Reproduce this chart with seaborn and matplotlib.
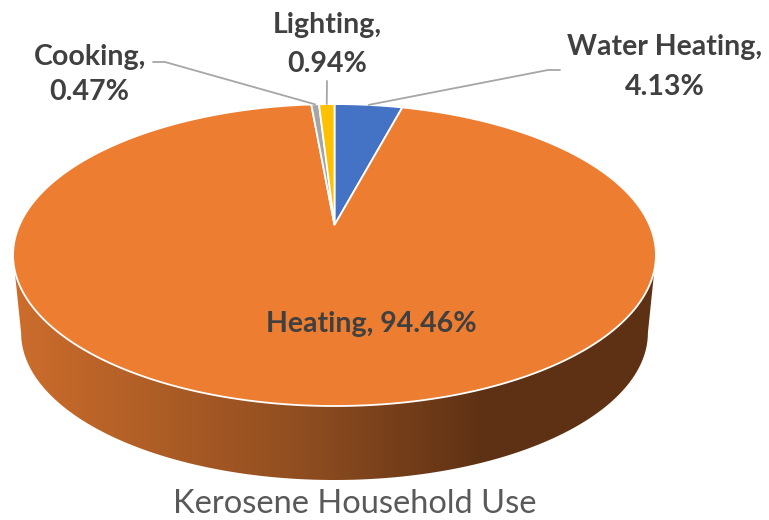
import numpy as np
import matplotlib
matplotlib.use("Agg")
import matplotlib.pyplot as plt
import seaborn as sns
from matplotlib.patches import Polygon
from matplotlib.colors import LinearSegmentedColormap

# data (clockwise from 12 o'clock, as in the original)
categories = ["Water Heating", "Heating", "Cooking", "Lighting"]
shares = [4.13, 94.46, 0.47, 0.94]
slice_colors = ["#4472C4", "#ED7D31", "#A5A5A5", "#FFC000"]
title = "Kerosene Household Use"

# layout of the tilted pie, in pixels
CX, CY = 334.5, 225.0
A, B, P = 315.0, 145.0, 0.199
DROP, SHRINK = 78.5, 0.975


def project(theta, bottom=False):
    u, v = np.sin(theta), np.cos(theta)
    q = 1.0 / (1.0 + P * v)
    s = SHRINK if bottom else 1.0
    x = CX + s * A * u * q
    y = CY - s * B * v * q + (DROP if bottom else 0.0)
    return x, y


sns.set_theme(style="white")
fig = plt.figure(figsize=(7.69, 5.20), dpi=100)
ax = fig.add_axes([0, 0, 1, 1])

# side wall with a left-to-right shading
t_right = np.arccos(-P)
t_left = 2 * np.pi - np.arccos(-P)
tt = np.linspace(t_right, t_left, 200)
xt, yt = project(tt)
xb, yb = project(tt[::-1], bottom=True)
wall = Polygon(np.column_stack([np.r_[xt, xb], np.r_[yt, yb]]), closed=True,
               facecolor="none", edgecolor="none")
ax.add_patch(wall)
wall_cmap = LinearSegmentedColormap.from_list(
    "wall", [(0, "#CD6D2C"), (0.45, "#8E4D20"), (0.72, "#5E3114"), (1, "#5E3114")])
grad = np.linspace(0, 1, 400)[None, :]
im = ax.imshow(grad, extent=(10, 670, 490, 240), aspect="auto", cmap=wall_cmap,
               zorder=1, interpolation="bilinear")
im.set_clip_path(wall)

# top face slices
bounds = np.r_[0, np.cumsum(shares)] / sum(shares) * 2 * np.pi
mids = []
for i, col in enumerate(slice_colors):
    th = np.linspace(bounds[i], bounds[i + 1], max(3, int(400 * shares[i] / 100)))
    x, y = project(th)
    ax.fill(np.r_[CX, x], np.r_[CY, y], facecolor=col, edgecolor="white",
            linewidth=1.3, zorder=2)
    mids.append(project((bounds[i] + bounds[i + 1]) / 2))

# labels
lab_color = "#404040"
lab_font = dict(family="Lato", weight="bold", fontsize=20.5, color=lab_color, zorder=4)
label_lines = {
    "Water Heating": [(665, 55, "Water Heating,"), (665, 95, "4.13%")],
    "Heating": [(371.5, 332, "Heating, 94.46%")],
    "Cooking": [(90, 65, "Cooking,"), (89, 100, "0.47%")],
    "Lighting": [(327, 33, "Lighting,"), (327, 72, "0.94%")],
}
for cat, val in zip(categories, shares):
    for x, y, s in label_lines[cat]:
        ax.text(x, y, s, ha="center", va="baseline", **lab_font)

# leader lines
knees = {
    "Water Heating": [(548, 70), (560, 70)],
    "Cooking": [(165, 62), (153, 62)],
    "Lighting": [(327, 81)],
}
for cat, (mx, my) in zip(categories, mids):
    if cat in knees:
        pts = [(mx, my)] + knees[cat]
        ax.plot([p[0] for p in pts], [p[1] for p in pts], color="#A6A6A6",
                linewidth=1.3, zorder=3)

ax.text(355, 513, title, ha="center", va="baseline", family="Lato",
        fontsize=23.5, color="#595959")

ax.set_xlim(0, 769)
ax.set_ylim(520, 0)
ax.axis("off")
fig.savefig("out.png", dpi=100)
